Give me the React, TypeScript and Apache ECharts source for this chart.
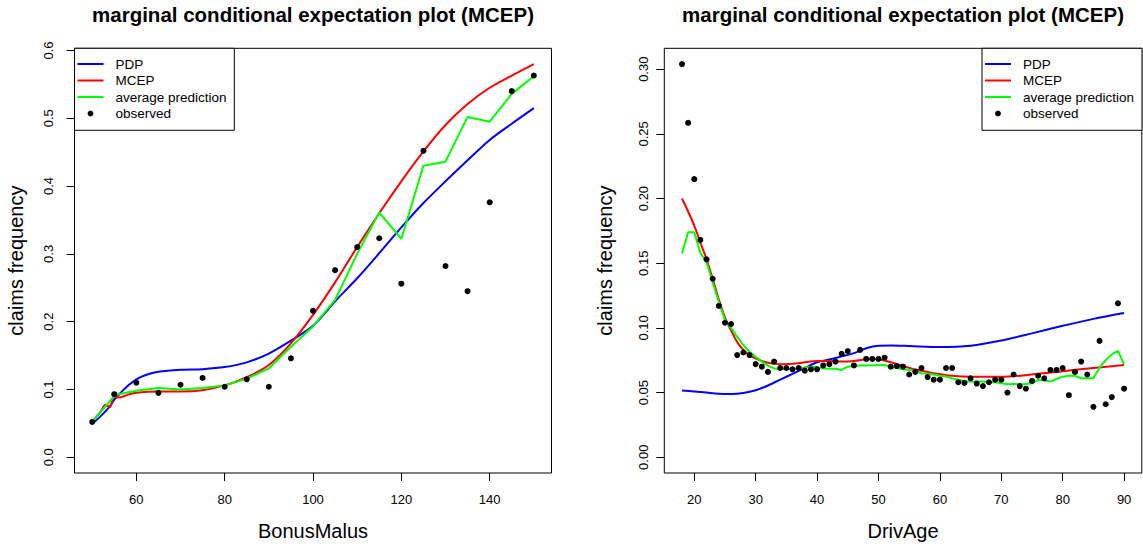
import React, { useEffect, useRef } from "react";
import * as echarts from "echarts";

const FONT = "'Liberation Sans', Arial, Helvetica, sans-serif";
const TITLE = "marginal conditional expectation plot (MCEP)";
const LEGEND_NAMES = ["PDP", "MCEP", "average prediction", "observed"];
const COLORS = ["#0000ff", "#ff0000", "#00ff00", "#000000"];

// ---------- Left panel: BonusMalus ----------
const bmXTicks = [60, 80, 100, 120, 140];
const bmYTicks = [0, 0.1, 0.2, 0.3, 0.4, 0.5, 0.6];

const bmObsX = [50, 55, 60, 65, 70, 75, 80, 85, 90, 95, 100, 105, 110, 115, 120, 125, 130, 135, 140, 145, 150];
const bmObsY = [0.052, 0.093, 0.110, 0.095, 0.107, 0.117, 0.104, 0.115, 0.104, 0.146, 0.216, 0.276, 0.310, 0.323, 0.256, 0.452, 0.282, 0.245, 0.376, 0.540, 0.563];

const bmPdpX = [50, 52, 54, 55, 56, 58, 60, 62, 65, 70, 75, 80, 85, 90, 95, 100, 105, 110, 115, 120, 125, 130, 135, 140, 145, 150];
const bmPdpY = [0.049, 0.061, 0.075, 0.085, 0.092, 0.105, 0.115, 0.121, 0.126, 0.129, 0.130, 0.133, 0.140, 0.153, 0.172, 0.194, 0.230, 0.264, 0.301, 0.339, 0.375, 0.407, 0.438, 0.468, 0.492, 0.515];

const bmMcepX = [50, 51, 52, 53, 54, 55, 56, 58, 60, 65, 70, 75, 80, 85, 90, 95, 100, 105, 110, 115, 120, 125, 130, 135, 140, 145, 150];
const bmMcepY = [0.053, 0.060, 0.068, 0.077, 0.074, 0.090, 0.088, 0.092, 0.095, 0.097, 0.097, 0.099, 0.106, 0.118, 0.136, 0.168, 0.210, 0.258, 0.310, 0.360, 0.407, 0.451, 0.490, 0.521, 0.545, 0.563, 0.580];

const bmAvgX = [50, 53, 55, 56, 60, 65, 70, 75, 80, 85, 90, 95, 100, 105, 110, 115, 120, 125, 130, 135, 140, 145, 150];
const bmAvgY = [0.052, 0.075, 0.090, 0.093, 0.098, 0.102, 0.100, 0.102, 0.106, 0.116, 0.131, 0.163, 0.193, 0.232, 0.300, 0.361, 0.322, 0.430, 0.436, 0.502, 0.495, 0.536, 0.562];

// ---------- Right panel: DrivAge ----------
const daXTicks = [20, 30, 40, 50, 60, 70, 80, 90];
const daYTicks = [0, 0.05, 0.1, 0.15, 0.2, 0.25, 0.3];

const daObsX = [18, 19, 20, 21, 22, 23, 24, 25, 26, 27, 28, 29, 30, 31, 32, 33, 34, 35, 36, 37, 38, 39, 40, 41, 42, 43, 44, 45, 46, 47, 48, 49, 50, 51, 52, 53, 54, 55, 56, 57, 58, 59, 60, 61, 62, 63, 64, 65, 66, 67, 68, 69, 70, 71, 72, 73, 74, 75, 76, 77, 78, 79, 80, 81, 82, 83, 84, 85, 86, 87, 88, 89, 90];
const daObsY = [0.304, 0.2585, 0.215, 0.168, 0.153, 0.138, 0.117, 0.104, 0.103, 0.079, 0.081, 0.079, 0.072, 0.070, 0.066, 0.074, 0.069, 0.069, 0.068, 0.069, 0.067, 0.068, 0.068, 0.071, 0.072, 0.074, 0.080, 0.082, 0.071, 0.083, 0.076, 0.076, 0.076, 0.077, 0.070, 0.0705, 0.070, 0.064, 0.066, 0.069, 0.062, 0.060, 0.060, 0.069, 0.069, 0.058, 0.0575, 0.061, 0.057, 0.055, 0.058, 0.060, 0.060, 0.050, 0.064, 0.055, 0.053, 0.059, 0.063, 0.061, 0.0675, 0.0675, 0.069, 0.048, 0.066, 0.074, 0.064, 0.039, 0.090, 0.041, 0.0465, 0.119, 0.053];

const daPdpX = [18, 20, 22, 24, 26, 28, 30, 32, 34, 36, 38, 40, 42, 44, 46, 48, 50, 52, 55, 60, 65, 70, 75, 80, 85, 90];
const daPdpY = [0.0516, 0.0508, 0.0500, 0.0492, 0.0490, 0.0497, 0.0518, 0.0555, 0.0600, 0.0645, 0.0690, 0.0735, 0.0756, 0.0780, 0.0805, 0.0843, 0.0862, 0.0864, 0.0860, 0.0852, 0.0862, 0.0902, 0.0958, 0.1016, 0.1070, 0.1115];

const daMcepX = [18, 19, 20, 21, 22, 23, 24, 25, 26, 27, 28, 29, 30, 31, 32, 33, 34, 35, 36, 37, 38, 40, 42, 44, 46, 48, 49, 50, 52, 54, 56, 59, 62, 65, 70, 75, 80, 85, 90];
const daMcepY = [0.200, 0.190, 0.179, 0.166, 0.153, 0.138, 0.122, 0.108, 0.098, 0.089, 0.083, 0.079, 0.0764, 0.0744, 0.0730, 0.0722, 0.0719, 0.0720, 0.0722, 0.0727, 0.0735, 0.0744, 0.0744, 0.0741, 0.0745, 0.0758, 0.0762, 0.0757, 0.0735, 0.0705, 0.0678, 0.0650, 0.0630, 0.0622, 0.0622, 0.0640, 0.0665, 0.0690, 0.0713];

const daAvgX = daObsX;
const daAvgY = [0.1576, 0.174, 0.174, 0.158, 0.151, 0.135, 0.120, 0.106, 0.100, 0.093, 0.0866, 0.0816, 0.0777, 0.0739, 0.0708, 0.0687, 0.0683, 0.0683, 0.0680, 0.0685, 0.0693, 0.0700, 0.0697, 0.0687, 0.0685, 0.0685, 0.0675, 0.0700, 0.0708, 0.0710, 0.0710, 0.0712, 0.0712, 0.0713, 0.0700, 0.0690, 0.0680, 0.0675, 0.0667, 0.0650, 0.0645, 0.0640, 0.0630, 0.0625, 0.0610, 0.0600, 0.0588, 0.0585, 0.0585, 0.0585, 0.0580, 0.0580, 0.0572, 0.0565, 0.0567, 0.0565, 0.0567, 0.0572, 0.0598, 0.0598, 0.0585, 0.0605, 0.0623, 0.0630, 0.0630, 0.0610, 0.0610, 0.0610, 0.0693, 0.0751, 0.0795, 0.0823, 0.0718];

const zip = (xs: number[], ys: number[]) => xs.map((x, i) => [x, ys[i]]);

// R-style 4% padding on axis ranges
const pad = (lo: number, hi: number): [number, number] => {
  const d = (hi - lo) * 0.04;
  return [lo - d, hi + d];
};

function makeXAxis(gridIndex: number, range: [number, number], ticks: number[], name: string) {
  return {
    type: "value",
    gridIndex,
    min: range[0],
    max: range[1],
    axisLine: { show: false, onZero: false },
    splitLine: { show: false },
    axisTick: { show: true, length: 8, customValues: ticks, lineStyle: { color: "#000", width: 1 } },
    axisLabel: { customValues: ticks, margin: 20, fontSize: 13, color: "#000", fontFamily: FONT },
    name,
    nameLocation: "middle",
    nameGap: 48,
    nameTextStyle: { fontSize: 20, color: "#000", fontFamily: FONT },
  };
}

function makeYAxis(gridIndex: number, range: [number, number], ticks: number[], digits: number, margin: number, nameGap: number) {
  return {
    type: "value",
    gridIndex,
    min: range[0],
    max: range[1],
    axisLine: { show: false, onZero: false },
    splitLine: { show: false },
    axisTick: { show: true, length: 8, customValues: ticks, lineStyle: { color: "#000", width: 1 } },
    axisLabel: {
      customValues: ticks,
      rotate: 90,
      margin,
      fontSize: 13,
      color: "#000",
      fontFamily: FONT,
      formatter: (v: number) => v.toFixed(digits),
    },
    name: "claims frequency",
    nameLocation: "middle",
    nameGap,
    nameTextStyle: { fontSize: 20, color: "#000", fontFamily: FONT },
  };
}

function panelSeries(idx: number, pdp: number[][], mcep: number[][], avg: number[][], obs: number[][]) {
  const base = { xAxisIndex: idx, yAxisIndex: idx };
  return [
    { ...base, type: "line", name: LEGEND_NAMES[0], data: pdp, showSymbol: false, smooth: 0.3, lineStyle: { color: COLORS[0], width: 2 }, z: 2 },
    { ...base, type: "line", name: LEGEND_NAMES[1], data: mcep, showSymbol: false, smooth: 0.3, lineStyle: { color: COLORS[1], width: 2 }, z: 3 },
    { ...base, type: "line", name: LEGEND_NAMES[2], data: avg, showSymbol: false, smooth: false, lineStyle: { color: COLORS[2], width: 2 }, z: 4 },
    { ...base, type: "scatter", name: LEGEND_NAMES[3], data: obs, symbol: "circle", symbolSize: 6, itemStyle: { color: COLORS[3], opacity: 1 }, z: 5 },
  ];
}

function legendGroup(x: number, y: number, w: number) {
  const rows = [15.7, 32.2, 48.7, 65.2];
  const children: any[] = [
    { type: "rect", shape: { x: 0, y: 0, width: w, height: 82 }, style: { fill: "#fff", stroke: "#000", lineWidth: 1 } },
  ];
  for (let i = 0; i < 3; i++) {
    children.push({ type: "line", shape: { x1: 3, y1: rows[i], x2: 29, y2: rows[i] }, style: { stroke: COLORS[i], lineWidth: 2 } });
  }
  children.push({ type: "circle", shape: { cx: 16, cy: rows[3], r: 2.9 }, style: { fill: "#000" } });
  LEGEND_NAMES.forEach((name, i) => {
    children.push({
      type: "text",
      x: 41,
      y: rows[i],
      style: { text: name, fill: "#000", fontSize: 13.5, fontFamily: FONT, align: "left", verticalAlign: "middle" },
    });
  });
  return { type: "group", x, y, children };
}

export default function App() {
  const ref = useRef<HTMLDivElement>(null);
  useEffect(() => {
    if (!ref.current) return;
    const chart = echarts.init(ref.current, undefined, { renderer: "svg" });
    const bmX = pad(50, 150);
    const bmY = pad(0, 0.58);
    const daX = pad(18, 90);
    const daY = pad(0, 0.304);
    chart.setOption({
      animation: false,
      backgroundColor: "#fff",
      textStyle: { fontFamily: FONT },
      title: [
        { text: TITLE, left: 313, top: 4, padding: 0, textAlign: "center", textStyle: { fontSize: 20.5, fontWeight: "bold", color: "#000", fontFamily: FONT } },
        { text: TITLE, left: 903, top: 4, padding: 0, textAlign: "center", textStyle: { fontSize: 20.5, fontWeight: "bold", color: "#000", fontFamily: FONT } },
      ],
      grid: [
        { left: 74.5, top: 48.3, width: 477, height: 427.2, show: true, borderColor: "#000", borderWidth: 1, backgroundColor: "transparent", containLabel: false },
        { left: 664.3, top: 48.3, width: 477.5, height: 427.2, show: true, borderColor: "#000", borderWidth: 1, backgroundColor: "transparent", containLabel: false },
      ],
      xAxis: [makeXAxis(0, bmX, bmXTicks, "BonusMalus"), makeXAxis(1, daX, daXTicks, "DrivAge")],
      yAxis: [makeYAxis(0, bmY, bmYTicks, 1, 20, 49), makeYAxis(1, daY, daYTicks, 2, 14, 49)],
      series: [
        ...panelSeries(0, zip(bmPdpX, bmPdpY), zip(bmMcepX, bmMcepY), zip(bmAvgX, bmAvgY), zip(bmObsX, bmObsY)),
        ...panelSeries(1, zip(daPdpX, daPdpY), zip(daMcepX, daMcepY), zip(daAvgX, daAvgY), zip(daObsX, daObsY)),
      ],
      graphic: [legendGroup(74.5, 48.3, 159.8), legendGroup(982, 48.3, 160)],
    });
    return () => chart.dispose();
  }, []);
  return <div ref={ref} style={{ position: "fixed", left: 0, top: 0, width: 1143, height: 546, background: "#fff" }} />;
}
